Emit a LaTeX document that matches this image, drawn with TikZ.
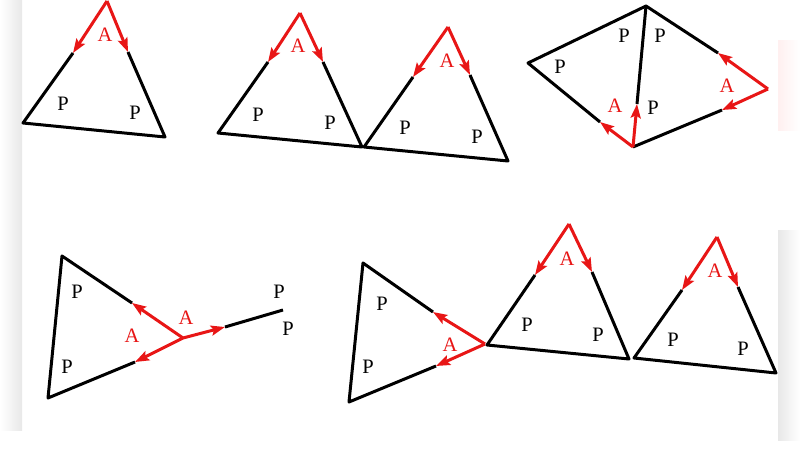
\documentclass[tikz,border=0pt]{standalone}
\usepackage{fontspec}
\setmainfont{Liberation Serif}
\usetikzlibrary{arrows.meta}
\definecolor{ared}{RGB}{232,22,22}
\begin{document}
\begin{tikzpicture}[x=1pt,y=-1pt,
  edge/.style={line width=3pt, black, line join=round},
  redarrow/.style={line width=3pt, ared, -{Stealth[length=14pt,width=10pt,inset=2.5pt]}},
  plab/.style={inner sep=0pt, font=\fontsize{20.5}{20.5}\selectfont},
  alab/.style={plab, text=ared}]
\useasboundingbox (0,0) rectangle (800,450);
\fill[white] (0,0) rectangle (800,450);
\shade[left color=white, right color=black!9] (0,0) rectangle (22,430);
\shade[left color=black!9, right color=white] (778,230) rectangle (800,440);
\shade[left color=red!6, right color=white] (778,40) rectangle (800,130);

% ---- Figure 1: single triangle
\coordinate (a1) at (107,1);
\coordinate (l1) at (73,53);
\coordinate (r1) at (128,52);
\coordinate (bl1) at (23,123);
\coordinate (br1) at (165,137);
\draw[edge] (l1) -- (bl1) -- (br1) -- (r1);
\draw[redarrow] (a1) -- (l1);
\draw[redarrow] (a1) -- (r1);
\node[alab] (A1) at (105,35) {A};
\node[plab] (P1a) at (63,104) {P};
\node[plab] (P1b) at (135,113) {P};

% ---- Figure 2: two triangles
\coordinate (a2) at (300,13);
\coordinate (l2) at (268,62);
\coordinate (r2) at (323,62);
\coordinate (bl2) at (218,133);
\coordinate (br2) at (362,147);
\draw[edge] (l2) -- (bl2) -- (br2) -- (r2);
\draw[redarrow] (a2) -- (l2);
\draw[redarrow] (a2) -- (r2);
\node[alab] (A2) at (298,46) {A};
\node[plab] (P2a) at (258,115) {P};
\node[plab] (P2b) at (330,123) {P};

\coordinate (a3) at (448,27);
\coordinate (l3) at (413,77);
\coordinate (r3) at (470,75);
\coordinate (bl3) at (364,147);
\coordinate (br3) at (508,161);
\draw[edge] (l3) -- (bl3) -- (br3) -- (r3);
\draw[redarrow] (a3) -- (l3);
\draw[redarrow] (a3) -- (r3);
\node[alab] (A3) at (447,61) {A};
\node[plab] (P3a) at (405,128) {P};
\node[plab] (P3b) at (477,137) {P};

% ---- Figure 3: two triangles sharing an edge
\coordinate (t4) at (646,6);
\coordinate (lf4) at (528,63);
\coordinate (b4) at (633,147);
\coordinate (rt4) at (768,89);
\coordinate (m4a) at (600,122);
\coordinate (m4b) at (637,104);
\coordinate (m4c) at (718,53);
\coordinate (m4d) at (722,110);
\draw[edge] (m4a) -- (lf4) -- (t4) -- (m4c);
\draw[edge] (m4b) -- (t4);
\draw[edge] (m4d) -- (b4);
\draw[redarrow] (b4) -- (m4a);
\draw[redarrow] (b4) -- (m4b);
\draw[redarrow] (rt4) -- (m4c);
\draw[redarrow] (rt4) -- (m4d);
\node[plab] (P4a) at (624,36) {P};
\node[plab] (P4b) at (660,36) {P};
\node[plab] (P4c) at (560,67) {P};
\node[plab] (P4d) at (653,108) {P};
\node[alab] (A4a) at (615,106) {A};
\node[alab] (A4b) at (727,86) {A};

% ---- Figure 4: triangle and segment
\coordinate (t5) at (62,256);
\coordinate (b5) at (48,398);
\coordinate (c5) at (183,338);
\coordinate (m5a) at (132,303);
\coordinate (m5b) at (135,362);
\coordinate (m5c) at (225,327);
\coordinate (e5) at (283,310);
\draw[edge] (m5a) -- (t5) -- (b5) -- (m5b);
\draw[edge] (m5c) -- (e5);
\draw[redarrow] (c5) -- (m5a);
\draw[redarrow] (c5) -- (m5b);
\draw[redarrow] (c5) -- (m5c);
\node[plab] (P5a) at (77,292) {P};
\node[plab] (P5b) at (67,367) {P};
\node[alab] (A5a) at (132,336) {A};
\node[alab] (A5b) at (186,318) {A};
\node[plab] (P5c) at (279,292) {P};
\node[plab] (P5d) at (288,329) {P};

% ---- Figure 5: three triangles
\coordinate (t6) at (363,263);
\coordinate (b6) at (349,402);
\coordinate (v6) at (485,344);
\coordinate (m6a) at (433,312);
\coordinate (m6b) at (436,366);
\draw[edge] (m6a) -- (t6) -- (b6) -- (m6b);
\draw[redarrow] (v6) -- (m6a);
\draw[redarrow] (v6) -- (m6b);
\node[plab] (P6a) at (382,304) {P};
\node[plab] (P6b) at (368,367) {P};
\node[alab] (A6) at (450,345) {A};

\coordinate (a7) at (569,224);
\coordinate (l7) at (535,275);
\coordinate (r7) at (592,272);
\coordinate (bl7) at (487,345);
\coordinate (br7) at (629,359);
\draw[edge] (l7) -- (bl7) -- (br7) -- (r7);
\draw[redarrow] (a7) -- (l7);
\draw[redarrow] (a7) -- (r7);
\node[alab] (A7) at (567,259) {A};
\node[plab] (P7a) at (527,325) {P};
\node[plab] (P7b) at (598,335) {P};

\coordinate (a8) at (717,237);
\coordinate (l8) at (682,290);
\coordinate (r8) at (738,287);
\coordinate (bl8) at (634,358);
\coordinate (br8) at (776,373);
\draw[edge] (l8) -- (bl8) -- (br8) -- (r8);
\draw[redarrow] (a8) -- (l8);
\draw[redarrow] (a8) -- (r8);
\node[alab] (A8) at (715,271) {A};
\node[plab] (P8a) at (673,340) {P};
\node[plab] (P8b) at (743,349) {P};
\end{tikzpicture}
\end{document}
